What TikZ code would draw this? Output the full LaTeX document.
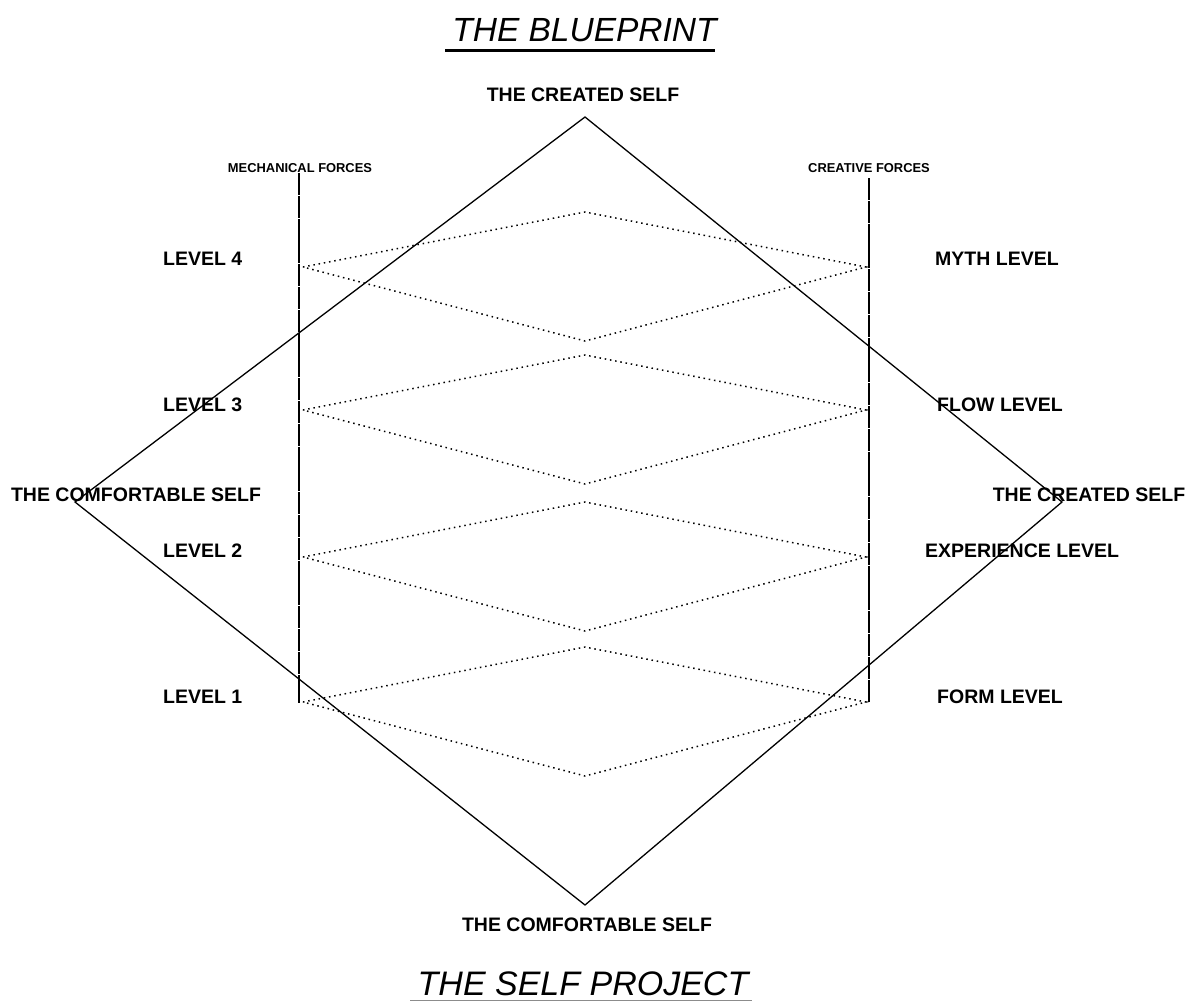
\documentclass[tikz,border=0pt]{standalone}
\usepackage{fontspec}
\setmainfont{Liberation Sans}
\begin{document}
\begin{tikzpicture}[x=1pt,y=-1pt,
  lbl/.style={font=\fontsize{19.5}{20}\selectfont\bfseries, inner sep=0pt},
  smlbl/.style={font=\fontsize{12.9}{13}\selectfont\bfseries, inner sep=0pt},
  ttl/.style={font=\fontsize{33.5}{34}\selectfont\itshape, inner sep=0pt},
  mainline/.style={line width=1.3pt, line join=miter},
  forceline/.style={line width=1.3pt, dash pattern=on 22pt off 0.8pt},
  dotline/.style={line width=1.5pt, dash pattern=on 1.5pt off 3.8pt}]
\useasboundingbox (0,0) rectangle (1190,1002);
\fill[white] (0,0) rectangle (1190,1002);

% titles
\node[ttl] (t1) at (584.5,30) {THE BLUEPRINT};
\draw[line width=3pt] (445,50) coordinate (u1a) -- (715,50) coordinate (u1b);
\node[ttl, font=\fontsize{34}{35}\selectfont\itshape] (t2) at (583,984) {THE SELF PROJECT};
\draw[line width=0.8pt, black!45] (410,1000.5) coordinate (u2a) -- (752,1000.5) coordinate (u2b);

% main diamond
\coordinate (mt) at (585,117);
\coordinate (ml) at (75,502);
\coordinate (mr) at (1062,502);
\coordinate (mb) at (585,905);
\draw[mainline] (mt) -- (mr) -- (mb) -- (ml) -- cycle;

% force lines
\coordinate (fla) at (299,173);
\coordinate (flb) at (299,703);
\coordinate (fra) at (869,178);
\coordinate (frb) at (869,702);
\draw[forceline] (fla) -- (flb);
\draw[forceline] (fra) -- (frb);

% dotted diamonds
\foreach \i/\y in {4/267,3/410,2/557,1/702}{
  \coordinate (dl\i) at (303,\y);
  \coordinate (dr\i) at (866,\y);
  \coordinate (dt\i) at (585,\y-55);
  \coordinate (db\i) at (585,\y+74);
  \draw[dotline] (dl\i) -- (dt\i) -- (dr\i) -- (db\i) -- cycle;
}

% labels
\node[lbl] (ctop) at (583,95) {THE CREATED SELF};
\node[lbl] (cbot) at (587,925) {THE COMFORTABLE SELF};
\node[lbl] (cleft) at (136,495) {THE COMFORTABLE SELF};
\node[lbl] (cright) at (1089,495) {THE CREATED SELF};
\node[smlbl] (mech) at (300,168) {MECHANICAL FORCES};
\node[smlbl] (crea) at (869,168) {CREATIVE FORCES};

\node[lbl, anchor=west] (l4) at (163,259) {LEVEL 4};
\node[lbl, anchor=west] (l3) at (163,405) {LEVEL 3};
\node[lbl, anchor=west] (l2) at (163,551) {LEVEL 2};
\node[lbl, anchor=west] (l1) at (163,697) {LEVEL 1};

\node[lbl, anchor=west] (r4) at (935,259) {MYTH LEVEL};
\node[lbl, anchor=west] (r3) at (937,405) {FLOW LEVEL};
\node[lbl, anchor=west] (r2) at (925,551) {EXPERIENCE LEVEL};
\node[lbl, anchor=west] (r1) at (937,697) {FORM LEVEL};
\end{tikzpicture}
\end{document}
